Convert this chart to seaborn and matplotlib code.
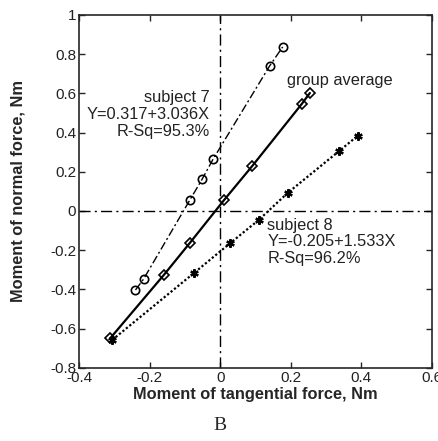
import seaborn as sns
import matplotlib.pyplot as plt
import pandas as pd

s7_x = [-0.240, -0.217, -0.086, -0.051, -0.020, 0.140, 0.177]
s7_y = [-0.403, -0.347, 0.056, 0.163, 0.265, 0.740, 0.837]
avg_x = [-0.311, -0.160, -0.086, 0.011, 0.091, 0.231, 0.254]
avg_y = [-0.648, -0.327, -0.163, 0.056, 0.230, 0.546, 0.602]
s8_x = [-0.306, -0.074, 0.029, 0.109, 0.191, 0.337, 0.389]
s8_y = [-0.658, -0.316, -0.163, -0.046, 0.092, 0.306, 0.383]

xticks = [-0.4, -0.2, 0, 0.2, 0.4, 0.6]
yticks = [-0.8, -0.6, -0.4, -0.2, 0, 0.2, 0.4, 0.6, 0.8, 1]

sns.set_style("ticks")
plt.rcParams['font.family'] = ['Liberation Sans', 'DejaVu Sans']

fig = plt.figure(figsize=(4.39, 4.41), dpi=100)
ax = fig.add_axes([0.18, 0.166, 0.804, 0.80])

s7 = pd.DataFrame({"x": s7_x, "y": s7_y})
avg = pd.DataFrame({"x": avg_x, "y": avg_y})
s8 = pd.DataFrame({"x": s8_x, "y": s8_y})

ax.axhline(0, color="black", lw=1, ls=(0, (8, 3, 1.5, 3)), zorder=1)
ax.axvline(0, color="black", lw=1, ls=(0, (8, 3, 1.5, 3)), zorder=1)

sns.lineplot(data=s7, x="x", y="y", ax=ax, color="black", lw=1,
             linestyle=(0, (6, 2, 1.5, 2)), marker="o", markersize=6,
             markerfacecolor="none", markeredgecolor="black", markeredgewidth=1.2)
sns.lineplot(data=avg, x="x", y="y", ax=ax, color="black", lw=1.6,
             marker="D", markersize=5.5,
             markerfacecolor="none", markeredgecolor="black", markeredgewidth=1.2)
sns.lineplot(data=s8, x="x", y="y", ax=ax, color="black", lw=1.6,
             linestyle=(0, (1, 1)), marker=(6, 2, 0), markersize=6,
             markeredgecolor="black", markeredgewidth=1.6)

ax.text(-0.03, 0.615, "subject 7\nY=0.317+3.036X\nR-Sq=95.3%", ha="right", va="top",
        fontsize=11.8, linespacing=1.13, color="#222222")
ax.text(0.19, 0.665, "group average", ha="left", va="center", fontsize=11.8, color="#222222")
ax.text(0.133, -0.035, "subject 8\nY=-0.205+1.533X\nR-Sq=96.2%", ha="left", va="top",
        fontsize=11.8, linespacing=1.13, color="#222222")

ax.set_xlim(-0.4, 0.6)
ax.set_ylim(-0.8, 1)
ax.set_xticks(xticks)
ax.set_yticks(yticks)
ax.set_xticklabels([f"{v:g}" for v in xticks])
ax.set_yticklabels([f"{v:g}" for v in yticks])
ax.tick_params(direction="in", top=True, right=True, labelsize=11, length=4, width=1, pad=2,
               labelcolor="#222222")
for sp in ax.spines.values():
    sp.set_linewidth(1.2)
    sp.set_visible(True)

ax.set_xlabel("Moment of tangential force, Nm", fontsize=11.8, fontweight="bold", labelpad=2)
ax.set_ylabel("Moment of normal force, Nm", fontsize=11.8, fontweight="bold", labelpad=18)

fig.text(0.5, 0.035, "B", ha="center", va="center", fontsize=14, family="Liberation Serif")

fig.savefig("out.png", dpi=100)
